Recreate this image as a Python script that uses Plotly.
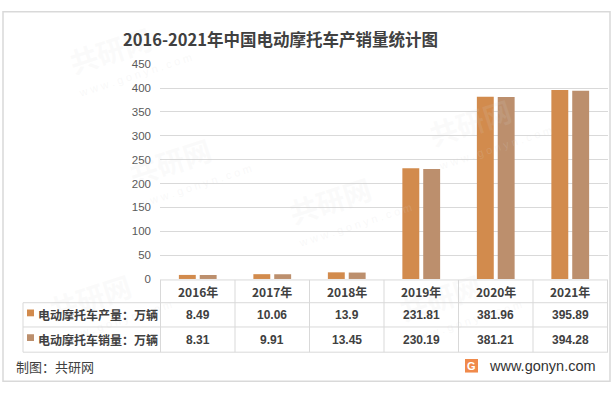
import plotly.graph_objects as go

years = ['2016年', '2017年', '2018年', '2019年', '2020年', '2021年']
production = [8.49, 10.06, 13.9, 231.81, 381.96, 395.89]
sales = [8.31, 9.91, 13.45, 230.19, 381.21, 394.28]
series_names = ['电动摩托车产量：万辆', '电动摩托车销量：万辆']
colors = ['#D28B4D', '#BC8F6D']
title = '2016-2021年中国电动摩托车产销量统计图'

W, H = 613, 396
def xp(px):
    return px / W
def yp(py):
    return 1 - py / H

CJK = 'Noto Sans CJK SC, Microsoft YaHei, sans-serif'
NUM = 'Liberation Sans, Arial, sans-serif'
TXT = '#404040'
GRID = '#d9d9d9'

fig = go.Figure()
for name, vals, col in zip(series_names, [production, sales], colors):
    fig.add_trace(go.Bar(x=years, y=vals, name=name, marker=dict(color=col, line=dict(width=0)),
                         showlegend=False))

plot_l, plot_r = 160, 608
y0_px, y450_px = 281.5, 60
row_lines = [282.5, 306, 331, 357]

shapes = []
annotations = []

# faint watermarks (drawn first)
wm = [(110, 45), (170, 160), (330, 200), (470, 120), (440, 300), (90, 300)]
for wx, wy in wm:
    annotations.append(dict(x=xp(wx), xref='paper', y=yp(wy), yref='paper',
                            text='<b>共研网</b>', showarrow=False, textangle=-18,
                            font=dict(family=CJK, size=28, color='rgba(215,215,215,0.13)'),
                            xanchor='center', yanchor='middle'))
    annotations.append(dict(x=xp(wx + 25), xref='paper', y=yp(wy + 26), yref='paper',
                            text='w w w . g o n y n . c o m', showarrow=False, textangle=-18,
                            font=dict(family=NUM, size=11, color='rgba(215,215,215,0.18)'),
                            xanchor='center', yanchor='middle'))

# outer border
shapes.append(dict(type='rect', xref='paper', yref='paper', x0=xp(3), x1=xp(610), y0=yp(387), y1=yp(6),
                   line=dict(color='#d9d9d9', width=1.5), fillcolor='rgba(0,0,0,0)', layer='below'))

# table horizontal lines
shapes.append(dict(type='line', xref='paper', yref='paper', x0=xp(plot_l), x1=xp(plot_r),
                   y0=yp(row_lines[0]), y1=yp(row_lines[0]), line=dict(color=GRID, width=1)))
for ry in row_lines[1:]:
    shapes.append(dict(type='line', xref='paper', yref='paper', x0=xp(23), x1=xp(plot_r),
                       y0=yp(ry), y1=yp(ry), line=dict(color=GRID, width=1)))
# table vertical lines
shapes.append(dict(type='line', xref='paper', yref='paper', x0=xp(23), x1=xp(23),
                   y0=yp(row_lines[1]), y1=yp(row_lines[3]), line=dict(color=GRID, width=1)))
for i in range(len(years) + 1):
    shapes.append(dict(type='line', xref='x', yref='paper', x0=i - 0.5, x1=i - 0.5,
                       y0=yp(row_lines[0]), y1=yp(row_lines[3]), line=dict(color=GRID, width=1)))

# header years
hy = (row_lines[0] + row_lines[1]) / 2
for yr in years:
    annotations.append(dict(x=yr, xref='x', y=yp(hy), yref='paper', text='<b>' + yr + '</b>', showarrow=False,
                            font=dict(family=CJK, size=12, color=TXT), xanchor='center', yanchor='middle'))

# rows
row_centers = [(row_lines[1] + row_lines[2]) / 2, (row_lines[2] + row_lines[3]) / 2]
for rc, name, vals, col in zip(row_centers, series_names, [production, sales], colors):
    shapes.append(dict(type='rect', xref='paper', yref='paper', x0=xp(27), x1=xp(34),
                       y0=yp(rc + 1.5), y1=yp(rc - 5.5), line=dict(width=0), fillcolor=col))
    annotations.append(dict(x=xp(36), xref='paper', y=yp(rc), yref='paper', text='<b>' + name + '</b>',
                            showarrow=False, font=dict(family=CJK, size=12, color=TXT),
                            xanchor='left', yanchor='middle'))
    for yr, v in zip(years, vals):
        annotations.append(dict(x=yr, xref='x', y=yp(rc), yref='paper', text='<b>' + f'{v:g}' + '</b>',
                                showarrow=False, font=dict(family=NUM, size=12, color=TXT),
                                xanchor='center', yanchor='middle'))

# title
annotations.append(dict(x=xp(280), xref='paper', y=yp(34), yref='paper', text='<b>' + title + '</b>',
                        showarrow=False, font=dict(family=CJK, size=16.5, color=TXT),
                        xanchor='center', yanchor='middle'))
# footer
annotations.append(dict(x=xp(14), xref='paper', y=yp(372), yref='paper', text='制图：共研网',
                        showarrow=False, font=dict(family=CJK, size=13, color=TXT),
                        xanchor='left', yanchor='middle'))
annotations.append(dict(x=xp(598), xref='paper', y=yp(371), yref='paper', text='www.gonyn.com',
                        showarrow=False, font=dict(family=NUM, size=14.5, color='#333333'),
                        xanchor='right', yanchor='middle'))
# logo
shapes.append(dict(type='rect', xref='paper', yref='paper', x0=xp(465), x1=xp(478),
                   y0=yp(378), y1=yp(364), line=dict(width=0), fillcolor='#F08A4B'))
annotations.append(dict(x=xp(471.5), xref='paper', y=yp(371), yref='paper', text='<b>G</b>',
                        showarrow=False, font=dict(family=NUM, size=11, color='white'),
                        xanchor='center', yanchor='middle'))

fig.update_layout(
    width=W, height=H,
    margin=dict(l=0, r=0, t=0, b=0),
    paper_bgcolor='white', plot_bgcolor='white',
    barmode='group', bargap=0.44, bargroupgap=0.19,
    xaxis=dict(domain=[xp(plot_l), xp(plot_r)], showticklabels=False, showgrid=False,
               zeroline=False, showline=False, ticks=''),
    yaxis=dict(domain=[yp(y0_px), yp(y450_px)], range=[0, 450], dtick=50, tick0=0,
               showgrid=True, gridcolor=GRID, gridwidth=1, zeroline=False, showline=False,
               ticks='', ticklabelstandoff=8,
               tickfont=dict(family=NUM, size=11.5, color='#595959')),
    shapes=shapes, annotations=annotations,
)

fig.write_html('out.html')
